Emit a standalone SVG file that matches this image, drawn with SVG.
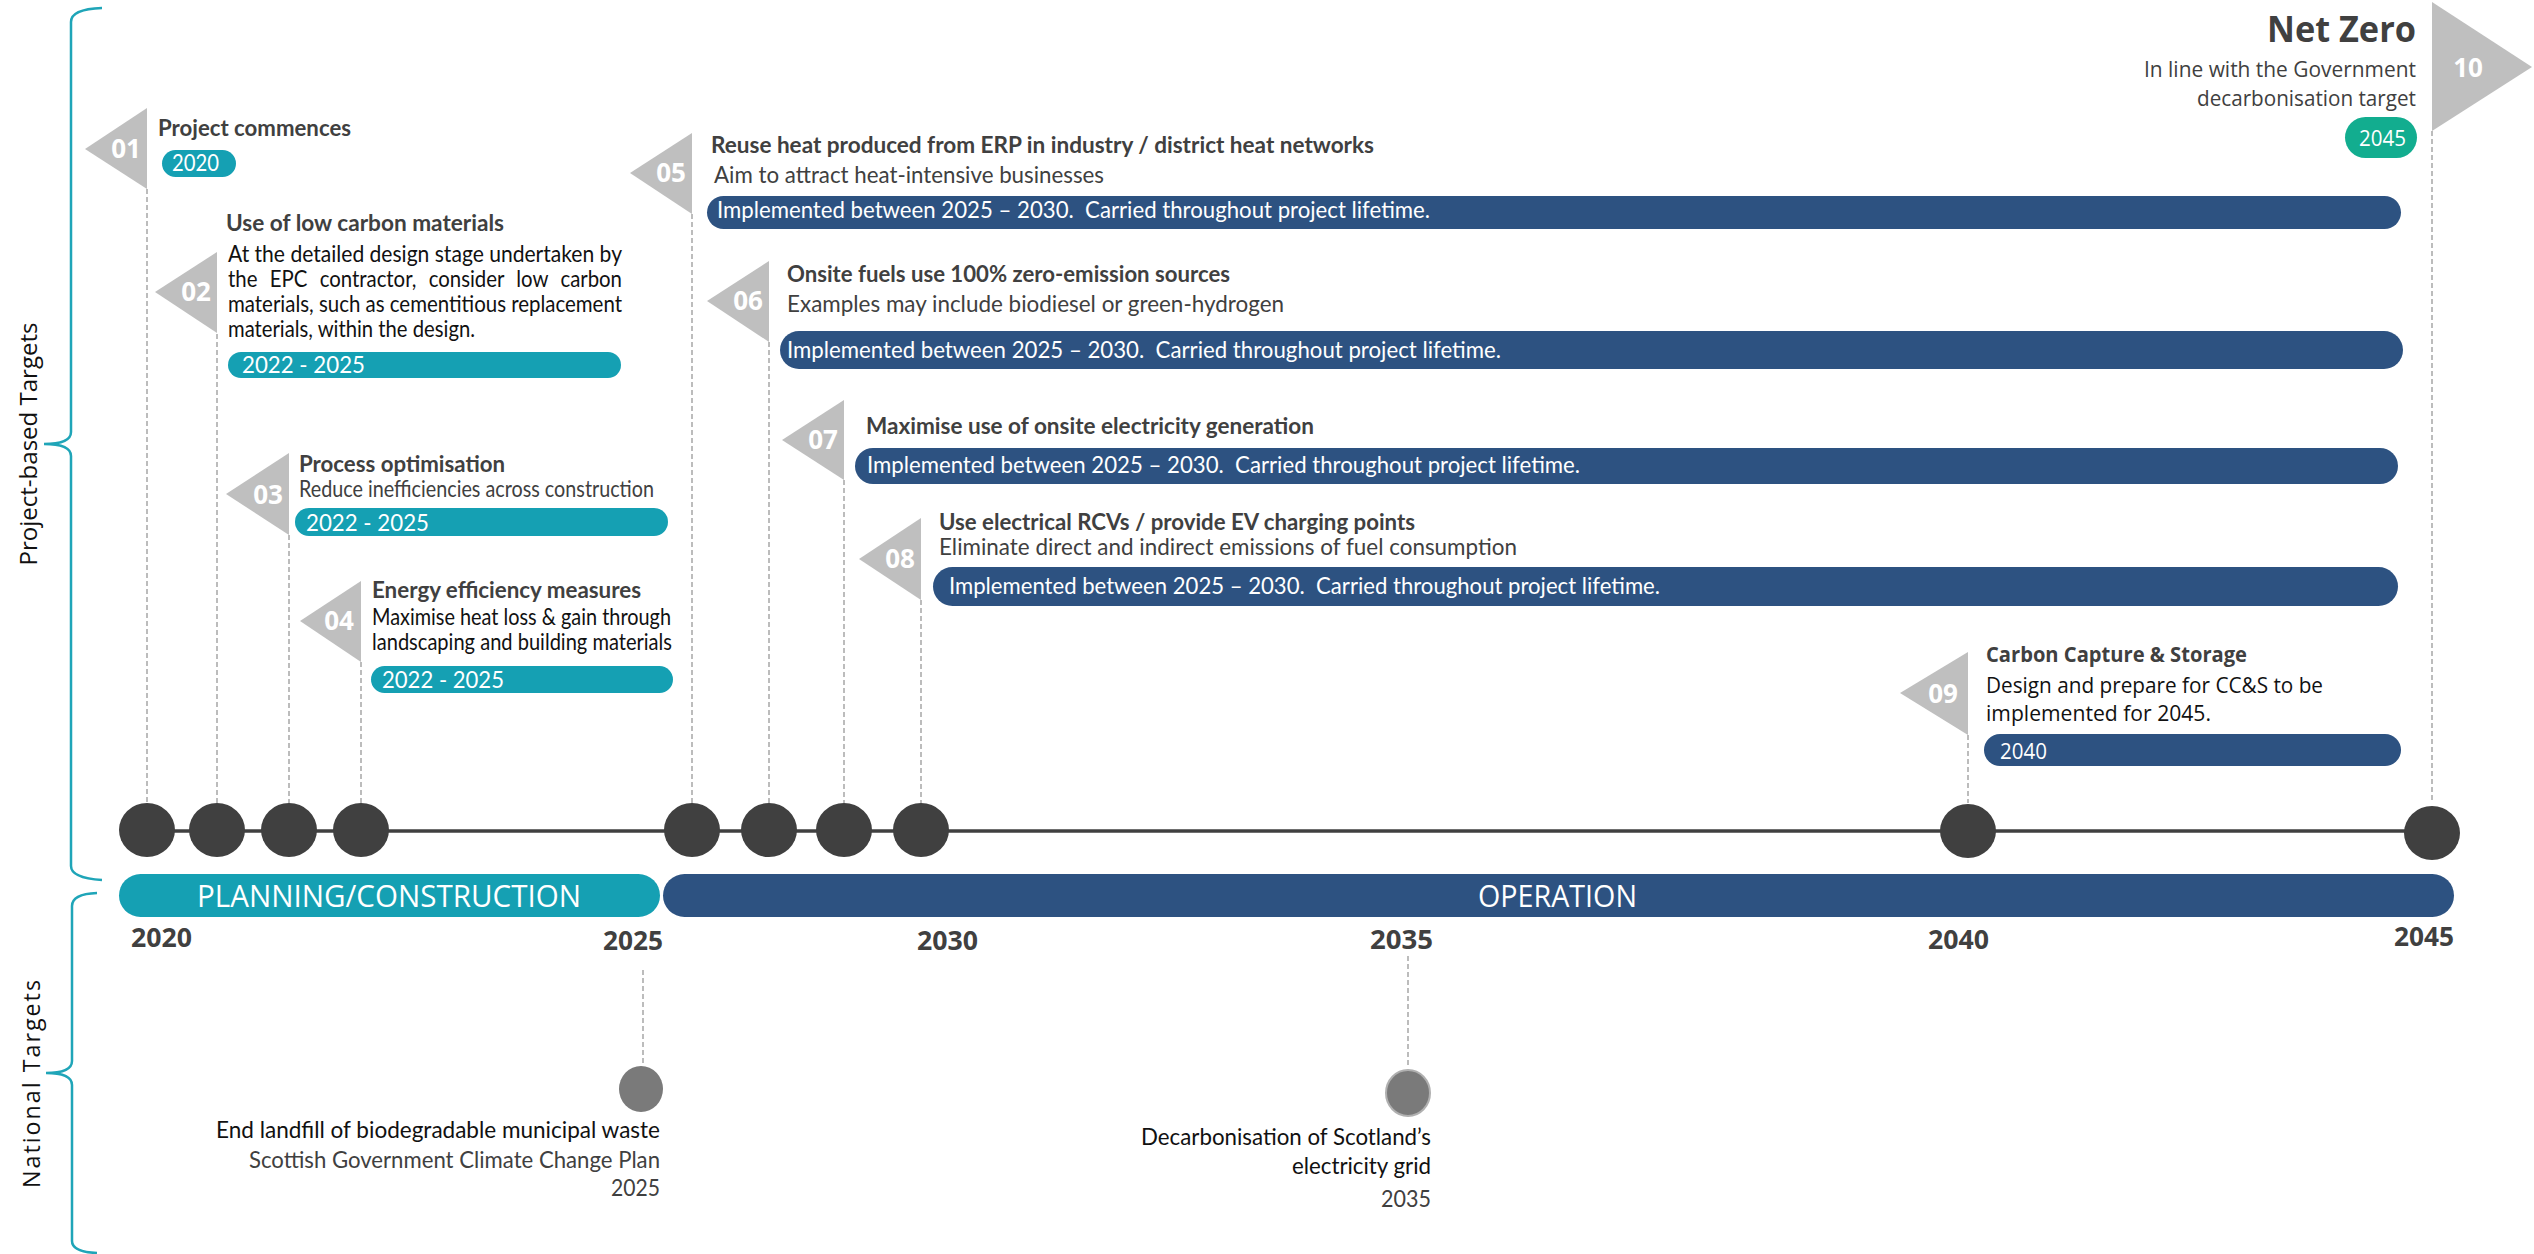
<svg xmlns="http://www.w3.org/2000/svg" width="2534" height="1254" viewBox="0 0 2534 1254">
<defs>
<style>
.tri{fill:#bfbfbf}
.num{font-family:"Open Sans",sans-serif;font-weight:700;font-size:26px;fill:#ffffff;text-anchor:middle}
.ttl{font-family:Lato,"Open Sans",sans-serif;font-weight:700;font-size:23px;fill:#404040}
.body{font-family:Lato,"Open Sans",sans-serif;font-size:23px;fill:#404040}
.blk{fill:#111111}
.teal{fill:#15a0b3}
.navy{fill:#2d5281}
.pill{font-family:Lato,"Open Sans",sans-serif;font-size:24px;fill:#ffffff}
.bar{font-family:Lato,"Open Sans",sans-serif;font-size:24px;fill:#ffffff;white-space:pre}
.yr{font-family:"Open Sans",sans-serif;font-weight:700;font-size:26px;fill:#404040}
.dash{stroke:#a6a6a6;stroke-width:1.5;stroke-dasharray:5 3;fill:none}
.dot{fill:#404040}
.brace{fill:none;stroke:#1fa5b8;stroke-width:2.5}
.side{font-family:"Open Sans",sans-serif;font-size:23px;fill:#111111;text-anchor:middle}
.wide{font-family:"Open Sans",sans-serif}
</style>
</defs>
<rect width="2534" height="1254" fill="#ffffff"/>

<g id="braces">
<path class="brace" d="M102,8 Q71,9 71,22 L71,432 Q71,444 44,444 Q71,444 71,456 L71,866 Q71,878 102,880"/>
<path class="brace" d="M97,893 Q72,894 72,906 L72,1061 Q72,1073 46,1073 Q72,1073 72,1085 L72,1241 Q72,1252 97,1253"/>
<text class="side" transform="translate(37,444) rotate(-90)" textLength="243" lengthAdjust="spacingAndGlyphs">Project-based Targets</text>
<text class="side" transform="translate(40,1083) rotate(-90)" textLength="210" lengthAdjust="spacingAndGlyphs" letter-spacing="2">National Targets</text>
</g>

<g id="connectors">
<line x1="147" y1="831" x2="2432" y2="831" stroke="#404040" stroke-width="3.5"/>
<line class="dash" x1="147" y1="189" x2="147" y2="803"/>
<line class="dash" x1="217" y1="334" x2="217" y2="803"/>
<line class="dash" x1="289" y1="535" x2="289" y2="803"/>
<line class="dash" x1="361" y1="662" x2="361" y2="803"/>
<line class="dash" x1="692" y1="214" x2="692" y2="803"/>
<line class="dash" x1="769" y1="342" x2="769" y2="803"/>
<line class="dash" x1="844" y1="480" x2="844" y2="803"/>
<line class="dash" x1="921" y1="600" x2="921" y2="803"/>
<line class="dash" x1="1968" y1="735" x2="1968" y2="803"/>
<line class="dash" x1="2432" y1="131" x2="2432" y2="803"/>
<line class="dash" x1="643" y1="970" x2="643" y2="1064"/>
<line class="dash" x1="1408" y1="956" x2="1408" y2="1068"/>
</g>

<g id="dots">
<ellipse class="dot" cx="147" cy="830" rx="28" ry="27"/>
<ellipse class="dot" cx="217" cy="830" rx="28" ry="27"/>
<ellipse class="dot" cx="289" cy="830" rx="28" ry="27"/>
<ellipse class="dot" cx="361" cy="830" rx="28" ry="27"/>
<ellipse class="dot" cx="692" cy="830" rx="28" ry="27"/>
<ellipse class="dot" cx="769" cy="830" rx="28" ry="27"/>
<ellipse class="dot" cx="844" cy="830" rx="28" ry="27"/>
<ellipse class="dot" cx="921" cy="830" rx="28" ry="27"/>
<ellipse class="dot" cx="1968" cy="831" rx="28" ry="27"/>
<ellipse class="dot" cx="2432" cy="833" rx="28" ry="27"/>
</g>

<g id="phases">
<rect class="teal" x="119" y="874" width="541" height="43" rx="21.5"/>
<rect class="navy" x="663" y="874" width="1791" height="43" rx="21.5"/>
<text class="wide" x="197" y="907" font-size="31" fill="#ffffff" textLength="384" lengthAdjust="spacingAndGlyphs">PLANNING/CONSTRUCTION</text>
<text class="wide" x="1478" y="907" font-size="31" fill="#ffffff" textLength="159" lengthAdjust="spacingAndGlyphs">OPERATION</text>
</g>

<g id="years">
<text class="yr" x="131" y="947" textLength="61" lengthAdjust="spacingAndGlyphs">2020</text>
<text class="yr" x="603" y="950" textLength="60" lengthAdjust="spacingAndGlyphs">2025</text>
<text class="yr" x="917" y="950" textLength="61" lengthAdjust="spacingAndGlyphs">2030</text>
<text class="yr" x="1370" y="949" textLength="63" lengthAdjust="spacingAndGlyphs">2035</text>
<text class="yr" x="1928" y="949" textLength="61" lengthAdjust="spacingAndGlyphs">2040</text>
<text class="yr" x="2394" y="946" textLength="60" lengthAdjust="spacingAndGlyphs">2045</text>
</g>

<g id="node01">
<polygon class="tri" points="147,108 85,149 147,189"/>
<text class="num" x="126" y="158">01</text>
<text class="ttl" x="158" y="136" textLength="193" lengthAdjust="spacingAndGlyphs">Project commences</text>
<rect class="teal" x="162" y="150" width="74" height="27" rx="13.5"/>
<text class="pill" x="172" y="171" font-size="22" textLength="47" lengthAdjust="spacingAndGlyphs">2020</text>
</g>

<g id="node02">
<polygon class="tri" points="217,252 155,292 217,333"/>
<text class="num" x="196" y="301">02</text>
<text class="ttl" x="226" y="231" textLength="278" lengthAdjust="spacingAndGlyphs">Use of low carbon materials</text>
<text class="body blk" x="228" y="262" textLength="394" lengthAdjust="spacingAndGlyphs">At the detailed design stage undertaken by</text>
<text class="body blk" x="228" y="287" textLength="394" lengthAdjust="spacingAndGlyphs" word-spacing="8">the EPC contractor, consider low carbon</text>
<text class="body blk" x="228" y="312" textLength="394" lengthAdjust="spacingAndGlyphs">materials, such as cementitious replacement</text>
<text class="body blk" x="228" y="337" textLength="247" lengthAdjust="spacingAndGlyphs">materials, within the design.</text>
<rect class="teal" x="228" y="352" width="393" height="26" rx="13"/>
<text class="pill" x="242" y="373" textLength="123" lengthAdjust="spacingAndGlyphs">2022 - 2025</text>
</g>

<g id="node03">
<polygon class="tri" points="289,453 226,494 289,535"/>
<text class="num" x="268" y="504">03</text>
<text class="ttl" x="299" y="472" textLength="206" lengthAdjust="spacingAndGlyphs">Process optimisation</text>
<text class="body" x="299" y="497" textLength="355" lengthAdjust="spacingAndGlyphs">Reduce inefficiencies across construction</text>
<rect class="teal" x="295" y="508" width="373" height="28" rx="14"/>
<text class="pill" x="306" y="531" textLength="123" lengthAdjust="spacingAndGlyphs">2022 - 2025</text>
</g>

<g id="node04">
<polygon class="tri" points="361,581 300,621 361,662"/>
<text class="num" x="339" y="630">04</text>
<text class="ttl" x="372" y="598" textLength="269" lengthAdjust="spacingAndGlyphs">Energy efficiency measures</text>
<text class="body blk" x="372" y="625" textLength="299" lengthAdjust="spacingAndGlyphs">Maximise heat loss &amp; gain through</text>
<text class="body blk" x="372" y="650" textLength="300" lengthAdjust="spacingAndGlyphs">landscaping and building materials</text>
<rect class="teal" x="371" y="666" width="302" height="27" rx="13.5"/>
<text class="pill" x="382" y="688" textLength="122" lengthAdjust="spacingAndGlyphs">2022 - 2025</text>
</g>

<g id="node05">
<polygon class="tri" points="692,133 630,173 692,214"/>
<text class="num" x="671" y="182">05</text>
<text class="ttl" x="711" y="153" textLength="663" lengthAdjust="spacingAndGlyphs">Reuse heat produced from ERP in industry / district heat networks</text>
<text class="body" x="714" y="183" textLength="390" lengthAdjust="spacingAndGlyphs">Aim to attract heat-intensive businesses</text>
<rect class="navy" x="707" y="196" width="1694" height="33" rx="16.5"/>
<text class="bar" xml:space="preserve" x="717" y="218" textLength="713" lengthAdjust="spacingAndGlyphs">Implemented between 2025 – 2030.  Carried throughout project lifetime.</text>
</g>

<g id="node06">
<polygon class="tri" points="769,261 707,301 769,342"/>
<text class="num" x="748" y="310">06</text>
<text class="ttl" x="787" y="282" textLength="443" lengthAdjust="spacingAndGlyphs">Onsite fuels use 100% zero-emission sources</text>
<text class="body" x="787" y="312" textLength="497" lengthAdjust="spacingAndGlyphs">Examples may include biodiesel or green-hydrogen</text>
<rect class="navy" x="780" y="331" width="1623" height="38" rx="19"/>
<text class="bar" xml:space="preserve" x="787" y="358" textLength="714" lengthAdjust="spacingAndGlyphs">Implemented between 2025 – 2030.  Carried throughout project lifetime.</text>
</g>

<g id="node07">
<polygon class="tri" points="844,400 782,440 844,480"/>
<text class="num" x="823" y="449">07</text>
<text class="ttl" x="866" y="434" textLength="448" lengthAdjust="spacingAndGlyphs">Maximise use of onsite electricity generation</text>
<rect class="navy" x="855" y="448" width="1543" height="36" rx="18"/>
<text class="bar" xml:space="preserve" x="867" y="473" textLength="713" lengthAdjust="spacingAndGlyphs">Implemented between 2025 – 2030.  Carried throughout project lifetime.</text>
</g>

<g id="node08">
<polygon class="tri" points="921,518 859,559 921,600"/>
<text class="num" x="900" y="568">08</text>
<text class="ttl" x="939" y="530" textLength="476" lengthAdjust="spacingAndGlyphs">Use electrical RCVs / provide EV charging points</text>
<text class="body" x="939" y="555" textLength="578" lengthAdjust="spacingAndGlyphs">Eliminate direct and indirect emissions of fuel consumption</text>
<rect class="navy" x="933" y="567" width="1465" height="39" rx="19.5"/>
<text class="bar" xml:space="preserve" x="949" y="594" textLength="711" lengthAdjust="spacingAndGlyphs">Implemented between 2025 – 2030.  Carried throughout project lifetime.</text>
</g>

<g id="node09">
<polygon class="tri" points="1968,652 1900,693 1968,735"/>
<text class="num" x="1943" y="703">09</text>
<text class="wide" x="1986" y="662" font-size="21" font-weight="700" fill="#404040" textLength="261" lengthAdjust="spacingAndGlyphs">Carbon Capture &amp; Storage</text>
<text class="wide" x="1986" y="693" font-size="22" fill="#111111" textLength="337" lengthAdjust="spacingAndGlyphs">Design and prepare for CC&amp;S to be</text>
<text class="wide" x="1986" y="721" font-size="22" fill="#111111" textLength="225" lengthAdjust="spacingAndGlyphs">implemented for 2045.</text>
<rect class="navy" x="1984" y="734" width="417" height="32" rx="16"/>
<text class="wide" x="2000" y="759" font-size="21" fill="#ffffff" textLength="47" lengthAdjust="spacingAndGlyphs">2040</text>
</g>

<g id="node10">
<polygon class="tri" points="2432,2 2532,67 2432,131"/>
<text class="num" x="2468" y="77">10</text>
<text class="wide" x="2416" y="42" font-size="36" font-weight="700" fill="#404040" text-anchor="end" textLength="149" lengthAdjust="spacingAndGlyphs">Net Zero</text>
<text class="wide" x="2416" y="77" font-size="22" fill="#404040" text-anchor="end" textLength="272" lengthAdjust="spacingAndGlyphs">In line with the Government</text>
<text class="wide" x="2416" y="106" font-size="22" fill="#404040" text-anchor="end" textLength="219" lengthAdjust="spacingAndGlyphs">decarbonisation target</text>
<rect x="2345" y="117" width="72" height="41" rx="20.5" fill="#12ad8f"/>
<text class="wide" x="2359" y="146" font-size="21" fill="#ffffff" textLength="47" lengthAdjust="spacingAndGlyphs">2045</text>
</g>

<g id="national2025">
<ellipse cx="641" cy="1089" rx="22" ry="23" fill="#7a7a7a"/>
<text class="body blk" x="660" y="1138" text-anchor="end" textLength="444" lengthAdjust="spacingAndGlyphs">End landfill of biodegradable municipal waste</text>
<text class="body" x="660" y="1168" text-anchor="end" textLength="411" lengthAdjust="spacingAndGlyphs">Scottish Government Climate Change Plan</text>
<text class="body" x="660" y="1196" text-anchor="end" textLength="49" lengthAdjust="spacingAndGlyphs">2025</text>
</g>

<g id="national2035">
<ellipse cx="1408" cy="1093" rx="22" ry="23" fill="#7a7a7a" stroke="#b0b0b0" stroke-width="2"/>
<text class="body blk" x="1431" y="1145" text-anchor="end" textLength="290" lengthAdjust="spacingAndGlyphs">Decarbonisation of Scotland’s</text>
<text class="body blk" x="1431" y="1174" text-anchor="end" textLength="139" lengthAdjust="spacingAndGlyphs">electricity grid</text>
<text class="body" x="1431" y="1207" text-anchor="end" textLength="50" lengthAdjust="spacingAndGlyphs">2035</text>
</g>
</svg>
